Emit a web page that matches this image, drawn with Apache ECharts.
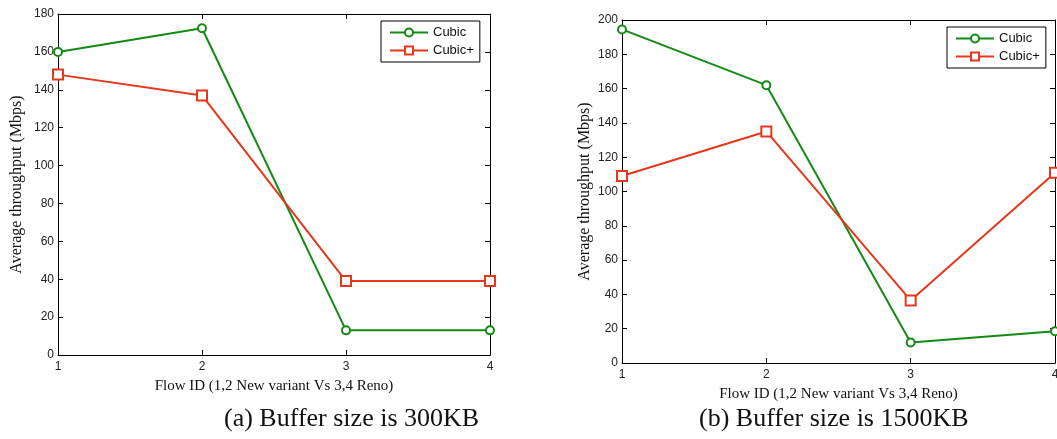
<!DOCTYPE html>
<html>
<head>
<meta charset="utf-8">
<script src="https://cdn.jsdelivr.net/npm/echarts@6/dist/echarts.min.js"></script>
<style>
  html, body { margin: 0; background: #fff; }
  #chart { width: 1057px; height: 439px; }
</style>
</head>
<body>
<div id="chart"></div>
<script>
// data
const flowIds = [1, 2, 3, 4];
const cubic300 = [160, 172.5, 13, 13];
const cubicPlus300 = [148, 137, 39, 39];
const cubic1500 = [194.5, 162, 12, 18.5];
const cubicPlus1500 = [109, 135, 36.5, 111];
const yMax = [180, 200];
const captions = ["(a) Buffer size is 300KB", "(b) Buffer size is 1500KB"];

const GREEN = "#138a13";
const RED = "#e5371b";
const tickFont = { fontFamily: "Liberation Sans, Arial", fontSize: 12, color: "#222" };
const serif = "Liberation Serif, Times New Roman";

const grids = [
  { left: 58, top: 14, width: 432, height: 341, outerBoundsMode: "none" },
  { left: 622, top: 20, width: 433, height: 343, outerBoundsMode: "none" },
];

const pts = (vals) => flowIds.map((x, i) => [x, vals[i]]);

const xAxis = [];
const yAxis = [];
grids.forEach((g, i) => {
  const line = { show: true, onZero: false, lineStyle: { color: "#000", width: 1 } };
  const tick = { show: true, inside: true, length: 5, lineStyle: { color: "#000" } };
  xAxis.push({
    type: "value", gridIndex: i, position: "bottom", min: 1, max: 4, interval: 1,
    name: "Flow ID (1,2 New variant Vs 3,4 Reno)", nameLocation: "middle", nameGap: 24,
    nameTextStyle: { fontFamily: serif, fontSize: 15, color: "#111" },
    axisLine: line, axisTick: tick, splitLine: { show: false },
    axisLabel: Object.assign({ margin: 6, showMaxLabel: true, showMinLabel: true }, tickFont),
  });
  xAxis.push({
    type: "value", gridIndex: i, position: "top", min: 1, max: 4, interval: 1,
    axisLine: line, axisTick: tick, splitLine: { show: false }, axisLabel: { show: false },
  });
  yAxis.push({
    type: "value", gridIndex: i, position: "left", min: 0, max: yMax[i], interval: 20,
    name: "Average throughput (Mbps)", nameLocation: "middle", nameGap: i === 0 ? 33 : 29,
    nameTextStyle: { fontFamily: serif, fontSize: 16, color: "#111" },
    axisLine: line, axisTick: tick, splitLine: { show: false },
    axisLabel: Object.assign({ margin: 4 }, tickFont),
  });
  yAxis.push({
    type: "value", gridIndex: i, position: "right", min: 0, max: yMax[i], interval: 20,
    axisLine: line, axisTick: tick, splitLine: { show: false }, axisLabel: { show: false },
  });
});

function lineSeries(name, vals, gi, color, symbol, size) {
  return {
    name: name, type: "line", data: pts(vals),
    xAxisIndex: gi * 2, yAxisIndex: gi * 2,
    symbol: symbol, symbolSize: size, showAllSymbol: true,
    lineStyle: { color: color, width: 2 },
    itemStyle: { color: color, borderColor: color, borderWidth: 1.5 },
    animation: false,
  };
}

const legendBase = {
  orient: "vertical", itemWidth: 38, itemHeight: 10, itemGap: 5,
  padding: [5, 6, 5, 8], borderColor: "#000", borderWidth: 1, backgroundColor: "#fff",
  borderRadius: 0,
  textStyle: { fontFamily: "Liberation Sans, Arial", fontSize: 13, color: "#111" },
  data: ["Cubic", "Cubic+"], selectedMode: false,
};

const captionStyle = { fontFamily: serif, fontSize: 26, fontWeight: "normal", color: "#111" };

const chart = echarts.init(document.getElementById("chart"));
chart.setOption({
  backgroundColor: "#fff",
  grid: grids,
  xAxis: xAxis,
  yAxis: yAxis,
  legend: [
    Object.assign({ left: 381, top: 21 }, legendBase),
    Object.assign({ left: 947, top: 27 }, legendBase),
  ],
  title: [
    { text: captions[0], left: 224, top: 406, padding: 0, textStyle: captionStyle },
    { text: captions[1], left: 699, top: 406, padding: 0, textStyle: captionStyle },
  ],
  series: [
    lineSeries("Cubic", cubic300, 0, GREEN, "emptyCircle", 8),
    lineSeries("Cubic+", cubicPlus300, 0, RED, "emptyRect", 10),
    lineSeries("Cubic", cubic1500, 1, GREEN, "emptyCircle", 8),
    lineSeries("Cubic+", cubicPlus1500, 1, RED, "emptyRect", 10),
  ],
});
</script>
</body>
</html>
